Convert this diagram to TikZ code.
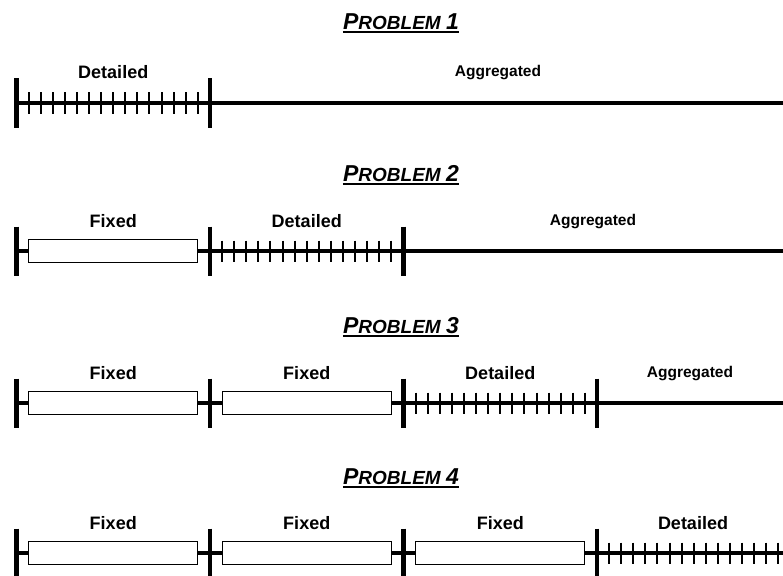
\documentclass[tikz,border=0pt]{standalone}
\usepackage{fontspec}
\setmainfont{Liberation Sans}
\begin{document}
\begin{tikzpicture}[x=1pt,y=-1pt,
  axis/.style={line width=4.6pt},
  barmark/.style={line width=4.8pt},
  tickmark/.style={line width=2pt},
  fixedbox/.style={draw,fill=white,line width=1.3pt,minimum width=169pt,minimum height=22.5pt,inner sep=0pt},
  lab/.style={font=\bfseries\fontsize{18}{20}\selectfont,anchor=base,inner sep=0pt},
  aglab/.style={font=\bfseries\fontsize{15.5}{18}\selectfont,anchor=base,inner sep=0pt},
  ttl/.style={font=\bfseries\itshape,anchor=base,inner sep=0pt},
  uline/.style={line width=2pt}]
\useasboundingbox (0,0) rectangle (783,575);

\newcommand{\probtitle}[1]{{\fontsize{23}{26}\selectfont P\fontsize{19}{22}\selectfont ROBLEM \fontsize{23}{26}\selectfont #1}}

% ---------- Problem 1 ----------
\node[ttl] (t1) at (401,29.5) {\probtitle{1}};
\draw[uline] ([yshift=-2.5pt]t1.base west) -- ([yshift=-2.5pt]t1.base east);
\coordinate (r1b0) at (16.5,103);
\coordinate (r1b1) at (210,103);
\coordinate (r1end) at (783,103);
\draw[axis] (r1b0) -- (r1end);
\foreach \k in {1,...,15}{\pgfmathsetmacro\tx{16.5+\k*12.09}
  \draw[tickmark] (\tx,92.5) -- (\tx,113.5);}
\foreach \c in {r1b0,r1b1}{\draw[barmark] ([yshift=24.5pt]\c) -- ([yshift=-24.5pt]\c);}
\node[lab] (r1d) at (113.25,79) {Detailed};
\node[aglab] (r1a) at (498,76.5) {Aggregated};

% ---------- Problem 2 ----------
\node[ttl] (t2) at (401,181) {\probtitle{2}};
\draw[uline] ([yshift=-2.5pt]t2.base west) -- ([yshift=-2.5pt]t2.base east);
\coordinate (r2b0) at (16.5,251);
\coordinate (r2b1) at (210,251);
\coordinate (r2b2) at (403.5,251);
\coordinate (r2end) at (783,251);
\draw[axis] (r2b0) -- (r2end);
\node[fixedbox] (r2f1) at (113.25,251) {};
\foreach \k in {1,...,15}{\pgfmathsetmacro\tx{210+\k*12.09}
  \draw[tickmark] (\tx,240.5) -- (\tx,261.5);}
\foreach \c in {r2b0,r2b1,r2b2}{\draw[barmark] ([yshift=24.5pt]\c) -- ([yshift=-24.5pt]\c);}
\node[lab] (r2l1) at (113.25,227) {Fixed};
\node[lab] (r2d) at (306.75,227) {Detailed};
\node[aglab] (r2a) at (593,225) {Aggregated};

% ---------- Problem 3 ----------
\node[ttl] (t3) at (401,333) {\probtitle{3}};
\draw[uline] ([yshift=-2.5pt]t3.base west) -- ([yshift=-2.5pt]t3.base east);
\coordinate (r3b0) at (16.5,403);
\coordinate (r3b1) at (210,403);
\coordinate (r3b2) at (403.5,403);
\coordinate (r3b3) at (597,403);
\coordinate (r3end) at (783,403);
\draw[axis] (r3b0) -- (r3end);
\node[fixedbox] (r3f1) at (113.25,403) {};
\node[fixedbox] (r3f2) at (306.75,403) {};
\foreach \k in {1,...,15}{\pgfmathsetmacro\tx{403.5+\k*12.09}
  \draw[tickmark] (\tx,392.5) -- (\tx,413.5);}
\foreach \c in {r3b0,r3b1,r3b2,r3b3}{\draw[barmark] ([yshift=24.5pt]\c) -- ([yshift=-24.5pt]\c);}
\node[lab] (r3l1) at (113.25,379) {Fixed};
\node[lab] (r3l2) at (306.75,379) {Fixed};
\node[lab] (r3d) at (500.25,379) {Detailed};
\node[aglab] (r3a) at (690,377) {Aggregated};

% ---------- Problem 4 ----------
\node[ttl] (t4) at (401,484) {\probtitle{4}};
\draw[uline] ([yshift=-2.5pt]t4.base west) -- ([yshift=-2.5pt]t4.base east);
\coordinate (r4b0) at (16.5,553);
\coordinate (r4b1) at (210,553);
\coordinate (r4b2) at (403.5,553);
\coordinate (r4b3) at (597,553);
\coordinate (r4end) at (783,553);
\draw[axis] (r4b0) -- (r4end);
\node[fixedbox] (r4f1) at (113.25,553) {};
\node[fixedbox] (r4f2) at (306.75,553) {};
\node[fixedbox] (r4f3) at (500.25,553) {};
\foreach \k in {1,...,15}{\pgfmathsetmacro\tx{597+\k*12.09}
  \draw[tickmark] (\tx,542.5) -- (\tx,563.5);}
\foreach \c in {r4b0,r4b1,r4b2,r4b3}{\draw[barmark] ([yshift=24.5pt]\c) -- ([yshift=-24.5pt]\c);}
\node[lab] (r4l1) at (113.25,529) {Fixed};
\node[lab] (r4l2) at (306.75,529) {Fixed};
\node[lab] (r4l3) at (500.25,529) {Fixed};
\node[lab] (r4d) at (693,529) {Detailed};
\end{tikzpicture}
\end{document}
